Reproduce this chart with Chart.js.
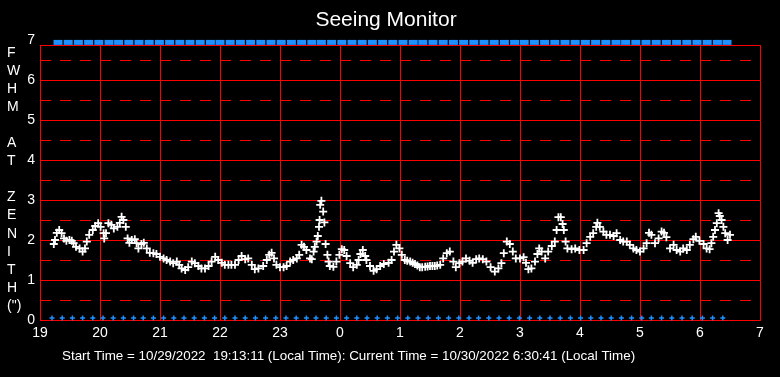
<!DOCTYPE html>
<html lang="en">
<head>
<meta charset="UTF-8">
<title>Seeing Monitor</title>
<script src="https://cdn.jsdelivr.net/npm/chart.js"></script>
<style>
    body { margin: 0; padding: 0; background: #000; }
    #seeingChart { display: block; }
</style>
</head>
<body>
<canvas id="seeingChart" width="780" height="377"></canvas>
<script>
    // FWHM samples: local time in hours (after midnight = 24 + h) and seeing in arcsec
    const seeingHours = [
        19.23, 19.25, 19.28, 19.32, 19.36, 19.40, 19.44, 19.49, 19.53, 19.56,
        19.60, 19.66, 19.71, 19.75, 19.78, 19.82, 19.88, 19.92, 19.97, 20.01,
        20.06, 20.07, 20.10, 20.14, 20.19, 20.23, 20.29, 20.33, 20.36, 20.39,
        20.43, 20.46, 20.49, 20.53, 20.58, 20.61, 20.64, 20.69, 20.73, 20.78,
        20.83, 20.89, 20.94, 21.00, 21.06, 21.11, 21.17, 21.22, 21.28, 21.32,
        21.36, 21.42, 21.47, 21.53, 21.58, 21.64, 21.69, 21.75, 21.81, 21.86,
        21.92, 21.97, 22.03, 22.08, 22.14, 22.19, 22.25, 22.31, 22.36, 22.42,
        22.47, 22.53, 22.58, 22.64, 22.72, 22.78, 22.82, 22.86, 22.90, 22.94,
        23.00, 23.06, 23.11, 23.17, 23.22, 23.28, 23.32, 23.36, 23.40, 23.44,
        23.50, 23.53, 23.56, 23.58, 23.61, 23.63, 23.65, 23.66, 23.67, 23.69,
        23.72, 23.74, 23.76, 23.79, 23.81, 23.83, 23.89, 23.94, 23.99, 24.03,
        24.07, 24.11, 24.17, 24.22, 24.28, 24.31, 24.34, 24.38, 24.42, 24.44,
        24.50, 24.56, 24.61, 24.67, 24.73, 24.81, 24.86, 24.90, 24.94, 24.99,
        25.03, 25.08, 25.12, 25.17, 25.21, 25.25, 25.29, 25.33, 25.37, 25.42,
        25.46, 25.50, 25.54, 25.58, 25.62, 25.67, 25.72, 25.78, 25.83, 25.89,
        25.93, 25.99, 26.04, 26.10, 26.16, 26.21, 26.27, 26.32, 26.38, 26.44,
        26.51, 26.58, 26.64, 26.69, 26.73, 26.78, 26.83, 26.88, 26.93, 27.00,
        27.06, 27.10, 27.14, 27.19, 27.25, 27.29, 27.32, 27.36, 27.42, 27.47,
        27.53, 27.58, 27.61, 27.64, 27.68, 27.71, 27.73, 27.76, 27.79, 27.86,
        27.92, 27.99, 28.06, 28.11, 28.17, 28.22, 28.27, 28.29, 28.33, 28.39,
        28.44, 28.50, 28.56, 28.61, 28.67, 28.72, 28.78, 28.83, 28.89, 28.94,
        29.00, 29.06, 29.11, 29.15, 29.19, 29.25, 29.31, 29.36, 29.40, 29.44,
        29.50, 29.56, 29.61, 29.67, 29.72, 29.78, 29.83, 29.89, 29.93, 29.99,
        30.06, 30.11, 30.16, 30.19, 30.22, 30.25, 30.28, 30.31, 30.33, 30.36,
        30.39, 30.42, 30.46, 30.50
    ];
    const seeingFwhm = [
        1.90, 2.00, 2.18, 2.25, 2.17, 2.04, 1.98, 2.00, 1.98, 1.92,
        1.83, 1.79, 1.71, 1.79, 1.96, 2.13, 2.25, 2.35, 2.42, 2.33,
        2.17, 2.04, 2.17, 2.42, 2.38, 2.29, 2.33, 2.43, 2.58, 2.50,
        2.33, 2.04, 1.93, 2.00, 2.02, 1.92, 1.79, 1.90, 1.93, 1.79,
        1.68, 1.67, 1.65, 1.58, 1.54, 1.50, 1.46, 1.42, 1.46, 1.38,
        1.29, 1.25, 1.32, 1.46, 1.42, 1.35, 1.29, 1.29, 1.35, 1.46,
        1.58, 1.50, 1.43, 1.38, 1.38, 1.38, 1.38, 1.50, 1.60, 1.52,
        1.54, 1.38, 1.27, 1.29, 1.35, 1.50, 1.63, 1.68, 1.54, 1.38,
        1.32, 1.32, 1.35, 1.46, 1.50, 1.54, 1.63, 1.88, 1.83, 1.75,
        1.54, 1.52, 1.71, 1.83, 1.96, 2.10, 2.33, 2.50, 2.88, 2.98,
        2.71, 2.44, 1.90, 1.63, 1.46, 1.35, 1.33, 1.46, 1.63, 1.77,
        1.75, 1.60, 1.42, 1.32, 1.38, 1.50, 1.65, 1.75, 1.60, 1.50,
        1.35, 1.23, 1.27, 1.35, 1.40, 1.43, 1.50, 1.71, 1.88, 1.79,
        1.63, 1.50, 1.48, 1.46, 1.43, 1.40, 1.36, 1.32, 1.32, 1.33,
        1.34, 1.35, 1.35, 1.35, 1.36, 1.38, 1.54, 1.67, 1.71, 1.46,
        1.32, 1.42, 1.46, 1.54, 1.48, 1.43, 1.52, 1.54, 1.52, 1.46,
        1.32, 1.21, 1.29, 1.42, 1.67, 1.96, 1.90, 1.71, 1.54, 1.54,
        1.57, 1.43, 1.27, 1.29, 1.46, 1.65, 1.79, 1.71, 1.54, 1.71,
        1.85, 1.96, 2.25, 2.57, 2.57, 2.40, 2.25, 1.96, 1.79, 1.77,
        1.79, 1.75, 1.75, 1.92, 2.08, 2.17, 2.33, 2.43, 2.33, 2.21,
        2.13, 2.13, 2.10, 2.17, 2.00, 1.96, 1.96, 1.88, 1.79, 1.75,
        1.71, 1.79, 1.92, 2.18, 2.13, 1.92, 2.04, 2.21, 2.18, 2.07,
        1.79, 1.88, 1.75, 1.71, 1.79, 1.75, 1.88, 2.02, 2.08, 1.98,
        1.90, 1.79, 1.77, 1.92, 2.08, 2.25, 2.42, 2.67, 2.60, 2.50,
        2.33, 2.17, 2.00, 2.13
    ];

    // blue status marks along the top and bottom of the plot
    const topMarkHours = [
        19.30, 19.47, 19.64, 19.81, 19.98, 20.15, 20.31, 20.48, 20.65, 20.82,
        20.99, 21.16, 21.33, 21.50, 21.67, 21.84, 22.00, 22.17, 22.34, 22.51,
        22.68, 22.85, 23.02, 23.19, 23.36, 23.53, 23.69, 23.86, 24.03, 24.20,
        24.37, 24.54, 24.71, 24.88, 25.05, 25.22, 25.38, 25.55, 25.72, 25.89,
        26.06, 26.23, 26.40, 26.57, 26.74, 26.91, 27.07, 27.24, 27.41, 27.58,
        27.75, 27.92, 28.09, 28.26, 28.43, 28.60, 28.76, 28.93, 29.10, 29.27,
        29.44, 29.61, 29.78, 29.95, 30.12, 30.29, 30.45
    ];
    const bottomMarkHours = [
        19.20, 19.37, 19.54, 19.71, 19.88, 20.05, 20.22, 20.39, 20.56, 20.72,
        20.89, 21.06, 21.23, 21.40, 21.57, 21.74, 21.91, 22.08, 22.25, 22.42,
        22.59, 22.76, 22.93, 23.10, 23.27, 23.44, 23.60, 23.77, 23.94, 24.11,
        24.28, 24.45, 24.62, 24.79, 24.96, 25.13, 25.30, 25.47, 25.64, 25.81,
        25.98, 26.15, 26.31, 26.48, 26.65, 26.82, 26.99, 27.16, 27.33, 27.50,
        27.67, 27.84, 28.01, 28.18, 28.35, 28.52, 28.69, 28.86, 29.03, 29.19,
        29.36, 29.53, 29.70, 29.87, 30.04, 30.21, 30.38
    ];
    const topMarkValue = 6.94;
    const bottomMarkValue = 0.05;

    // axes
    const hourTicks = [19, 20, 21, 22, 23, 24, 25, 26, 27, 28, 29, 30, 31];
    const hourLabels = ['19', '20', '21', '22', '23', '0', '1', '2', '3', '4', '5', '6', '7'];
    const fwhmTicks = [0, 1, 2, 3, 4, 5, 6, 6.875, 7];
    const fwhmHalfTicks = [0.5, 1.5, 2.5, 3.5, 4.5, 5.5, 6.5];
    const fwhmMax = 6.875;
    const yTitleLetters = ['F', 'W', 'H', 'M', '', 'A', 'T', '', 'Z', 'E', 'N', 'I', 'T', 'H', '(")'];

    const titleText = 'Seeing Monitor';
    const footerText = 'Start Time = 10/29/2022  19:13:11 (Local Time): Current Time = 10/30/2022 6:30:41 (Local Time)';

    const RED = '#ff0000';
    const BLUE = '#1e90ff';
    const FONT = '"Liberation Sans", Arial, sans-serif';

    // dashed half-unit lines, snapped to whole pixels
    const halfGridPlugin = {
        id: 'halfGrid',
        beforeDatasetsDraw(chart) {
            const { ctx, chartArea, scales } = chart;
            ctx.save();
            ctx.strokeStyle = RED;
            ctx.lineWidth = 1;
            ctx.setLineDash([11, 9]);
            fwhmHalfTicks.forEach(v => {
                const py = Math.round(scales.y.getPixelForValue(v)) + 0.5;
                ctx.beginPath();
                ctx.moveTo(chartArea.left, py);
                ctx.lineTo(chartArea.right, py);
                ctx.stroke();
            });
            ctx.restore();
        }
    };

    const textPlugin = {
        id: 'textPlugin',
        beforeDraw(chart) {
            const ctx = chart.ctx;
            ctx.save();
            ctx.fillStyle = '#000';
            ctx.fillRect(0, 0, chart.width, chart.height);
            ctx.restore();
        },
        afterDraw(chart) {
            const ctx = chart.ctx;
            ctx.save();
            ctx.fillStyle = '#fff';
            ctx.font = '21px ' + FONT;
            ctx.textAlign = 'center';
            ctx.textBaseline = 'middle';
            ctx.fillText(titleText, 386, 20);

            ctx.font = '13.4px ' + FONT;
            ctx.textAlign = 'left';
            ctx.textBaseline = 'alphabetic';
            ctx.fillText(footerText, 62, 360);

            ctx.font = '14px ' + FONT;
            ctx.textBaseline = 'middle';
            yTitleLetters.forEach((ch, i) => {
                ctx.fillText(ch, 7, 53 + i * 18.07);
            });
            ctx.restore();
        }
    };

    const ctx = document.getElementById('seeingChart').getContext('2d');
    new Chart(ctx, {
        type: 'scatter',
        data: {
            datasets: [
                {
                    label: 'FWHM',
                    data: seeingHours.map((h, i) => ({ x: h, y: seeingFwhm[i] })),
                    pointStyle: 'cross',
                    pointRadius: 4,
                    borderWidth: 1.8,
                    borderColor: '#fff',
                    backgroundColor: '#fff'
                },
                {
                    label: 'top',
                    data: topMarkHours.map(h => ({ x: h, y: topMarkValue })),
                    pointStyle: 'line',
                    pointRadius: 4.5,
                    borderWidth: 5,
                    borderColor: BLUE,
                    backgroundColor: BLUE,
                    clip: false
                },
                {
                    label: 'bottom',
                    data: bottomMarkHours.map(h => ({ x: h, y: bottomMarkValue })),
                    pointStyle: 'cross',
                    pointRadius: 2.5,
                    borderWidth: 1.5,
                    borderColor: BLUE,
                    backgroundColor: BLUE,
                    clip: false
                }
            ]
        },
        options: {
            responsive: false,
            animation: false,
            devicePixelRatio: 1,
            layout: { padding: { top: 45, right: 20, left: 0, bottom: 0 } },
            plugins: {
                legend: { display: false },
                tooltip: { enabled: false }
            },
            scales: {
                x: {
                    type: 'linear',
                    min: 19,
                    max: 31,
                    afterBuildTicks: s => { s.ticks = hourTicks.map(v => ({ value: v })); },
                    afterFit: s => { s.height = 57; },
                    ticks: {
                        autoSkip: false,
                        maxRotation: 0,
                        padding: 5,
                        color: '#fff',
                        font: { size: 14, family: FONT },
                        callback: v => hourLabels[hourTicks.indexOf(v)]
                    },
                    grid: { color: RED, lineWidth: 1, drawTicks: false },
                    border: { color: RED, width: 1 }
                },
                y: {
                    type: 'linear',
                    position: 'left',
                    min: 0,
                    max: fwhmMax,
                    afterBuildTicks: s => { s.ticks = fwhmTicks.map(v => ({ value: v })); },
                    afterFit: s => { s.width = 40; },
                    ticks: {
                        autoSkip: false,
                        padding: 5,
                        color: '#fff',
                        font: { size: 14, family: FONT },
                        callback: v => (Number.isInteger(v) ? String(v) : '')
                    },
                    grid: {
                        color: c => (c.tick && c.tick.value > fwhmMax ? 'rgba(0,0,0,0)' : RED),
                        lineWidth: 1,
                        drawTicks: false
                    },
                    border: { color: RED, width: 1 }
                }
            }
        },
        plugins: [halfGridPlugin, textPlugin]
    });
</script>
</body>
</html>
